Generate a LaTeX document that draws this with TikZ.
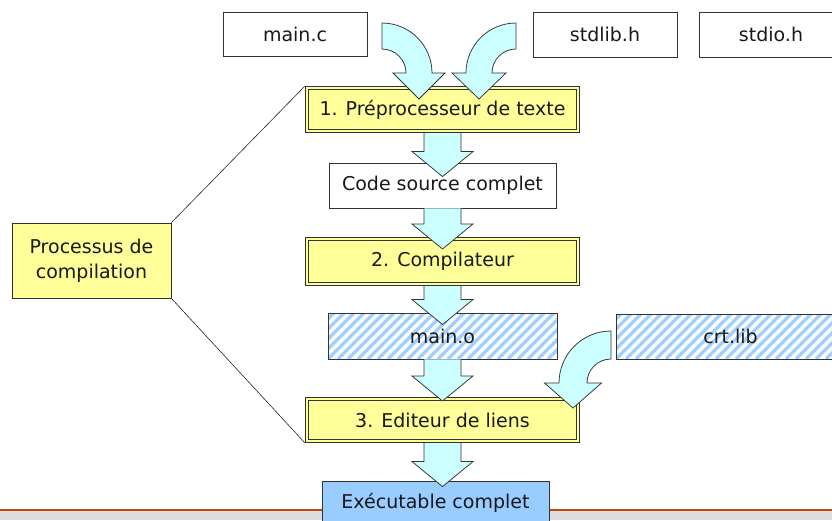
\documentclass[tikz,border=0pt]{standalone}
\usepackage{fontspec}
\setmainfont{DejaVu Sans}
\usetikzlibrary{calc}

\definecolor{stagefill}{RGB}{255,255,153}
\definecolor{flowfill}{RGB}{204,255,255}
\definecolor{hatchblue}{RGB}{160,208,255}
\definecolor{execfill}{RGB}{153,204,255}
\definecolor{edge}{RGB}{50,50,50}
\definecolor{rulecol}{RGB}{184,74,12}
\definecolor{bandcol}{RGB}{221,221,221}

% straight block arrow: shaft starts at #1, tip at #2
\newcommand{\flowarrow}[2]{%
  \fill[flowfill] let \p1=(#1), \p2=(#2) in
    (\x1-18.5pt,\y1) -- (\x1-18.5pt,\y2+25pt) -- (\x1-30.5pt,\y2+25pt) -- (\x1,\y2)
    -- (\x1+30.5pt,\y2+25pt) -- (\x1+18.5pt,\y2+25pt) -- (\x1+18.5pt,\y1) -- cycle;
  \draw[edge, line width=0.75pt] let \p1=(#1), \p2=(#2) in
    (\x1-18.5pt,\y1) -- (\x1-18.5pt,\y2+25pt) -- (\x1-30.5pt,\y2+25pt) -- (\x1,\y2)
    -- (\x1+30.5pt,\y2+25pt) -- (\x1+18.5pt,\y2+25pt) -- (\x1+18.5pt,\y1);
}

% quarter-ring arrow: #1 centre, #2 side (+1 right, -1 left), #3 outer radius,
% #4 inner radius, #5 half head width, #6 head length
\newcommand{\bentarrow}[6]{%
  \filldraw[fill=flowfill, draw=edge, line width=0.75pt]
    ($(#1)+(0,-#3)$) .. controls ($(#1)+({#2*#3*0.5523},-#3)$) and ($(#1)+({#2*#3},{-#3*0.5523})$) .. ($(#1)+({#2*#3},0)$)
    -- ($(#1)+({#2*((#3+#4)/2+#5)},0)$)
    -- ($(#1)+({#2*(#3+#4)/2},#6)$)
    -- ($(#1)+({#2*((#3+#4)/2-#5)},0)$)
    -- ($(#1)+({#2*#4},0)$)
    .. controls ($(#1)+({#2*#4},{-#4*0.5523})$) and ($(#1)+({#2*#4*0.5523},-#4)$) .. ($(#1)+(0,-#4)$)
    -- cycle;
}

\begin{document}
\begin{tikzpicture}[x=1pt,y=-1pt,
  font=\fontsize{19}{25}\selectfont,
  plainbox/.style={draw=edge, line width=0.9pt, fill=white, inner sep=0pt, text=black!90},
  stagebox/.style={draw=edge, line width=1pt, fill=stagefill, double=stagefill,
    double distance=2pt, outer sep=2pt, inner sep=0pt, text=black!90},
  hatchbox/.style={draw=edge, line width=0.9pt, fill=white, inner sep=0pt, text=black!90,
    path picture={
      \foreach \k in {-70,-60,...,240}
        \draw[hatchblue, line width=3.4pt]
          ($(path picture bounding box.south west)+(\k,0)$) -- ++(64,-64);
    }},
  notebox/.style={draw=edge, line width=0.9pt, fill=stagefill, inner sep=0pt,
    align=center, text=black!90},
  resultbox/.style={draw=edge, line width=0.9pt, fill=execfill, inner sep=0pt, text=black!90},
  guide/.style={draw=black!85, line width=0.6pt}]

\clip (0,0) rectangle (832,520);

% footer band
\fill[bandcol] (0,511) rectangle (832,520);
\draw[rulecol, line width=1.6pt] (0,510) -- (832,510);

% source files
\node[plainbox, minimum width=144pt, minimum height=44pt] (mainc)  at (295,34)   {main.c};
\node[plainbox, minimum width=144pt, minimum height=45pt] (stdlib) at (605,34.5) {stdlib.h};
\node[plainbox, minimum width=144pt, minimum height=45pt] (stdio)  at (771,34.5) {stdio.h};

% compilation stages
\node[stagebox, minimum width=271pt, minimum height=43pt] (preproc) at (442.5,109.5) {1. Préprocesseur de texte};
\node[plainbox, minimum width=227pt, minimum height=45pt] (code) at (442.5,185.5) {Code source complet};
\node[stagebox, minimum width=271pt, minimum height=45pt] (compil) at (442.5,261.5) {2. Compilateur};
\node[hatchbox, minimum width=229pt, minimum height=46pt] (maino) at (442.5,336) {main.o};
\node[hatchbox, minimum width=229pt, minimum height=45pt] (crt) at (730.5,336.5) {crt.lib};
\node[stagebox, minimum width=271pt, minimum height=42pt] (linker) at (442.5,420) {3. Editeur de liens};
\node[resultbox, minimum width=227pt, minimum height=44pt] (exe) at (435.5,503) {Exécutable complet};

% process label and its brackets
\node[notebox, minimum width=159pt, minimum height=75pt] (process) at (91.5,260.5) {Processus de\\compilation};
\draw[guide] (process.north east) -- (preproc.north west);
\draw[guide] (process.south east) -- (linker.south west);

% flow arrows
\flowarrow{preproc.south}{$(code.north)+(0,14)$}
\flowarrow{code.south}{$(compil.north)+(0,12)$}
\flowarrow{compil.south}{$(maino.north)+(0,12)$}
\flowarrow{maino.south}{$(linker.north)+(0,4)$}
\flowarrow{linker.south}{$(exe.north)+(0,6)$}

% bent arrows feeding the preprocessor and the linker
\coordinate (srcbend) at (382,73);
\coordinate (hdrbend) at (516,73);
\coordinate (libbend) at (611,383);
\bentarrow{srcbend}{1}{50}{24}{26}{26}
\bentarrow{hdrbend}{-1}{50}{24}{27}{26}
\bentarrow{libbend}{-1}{52}{24}{28.5}{25}

\end{tikzpicture}
\end{document}
